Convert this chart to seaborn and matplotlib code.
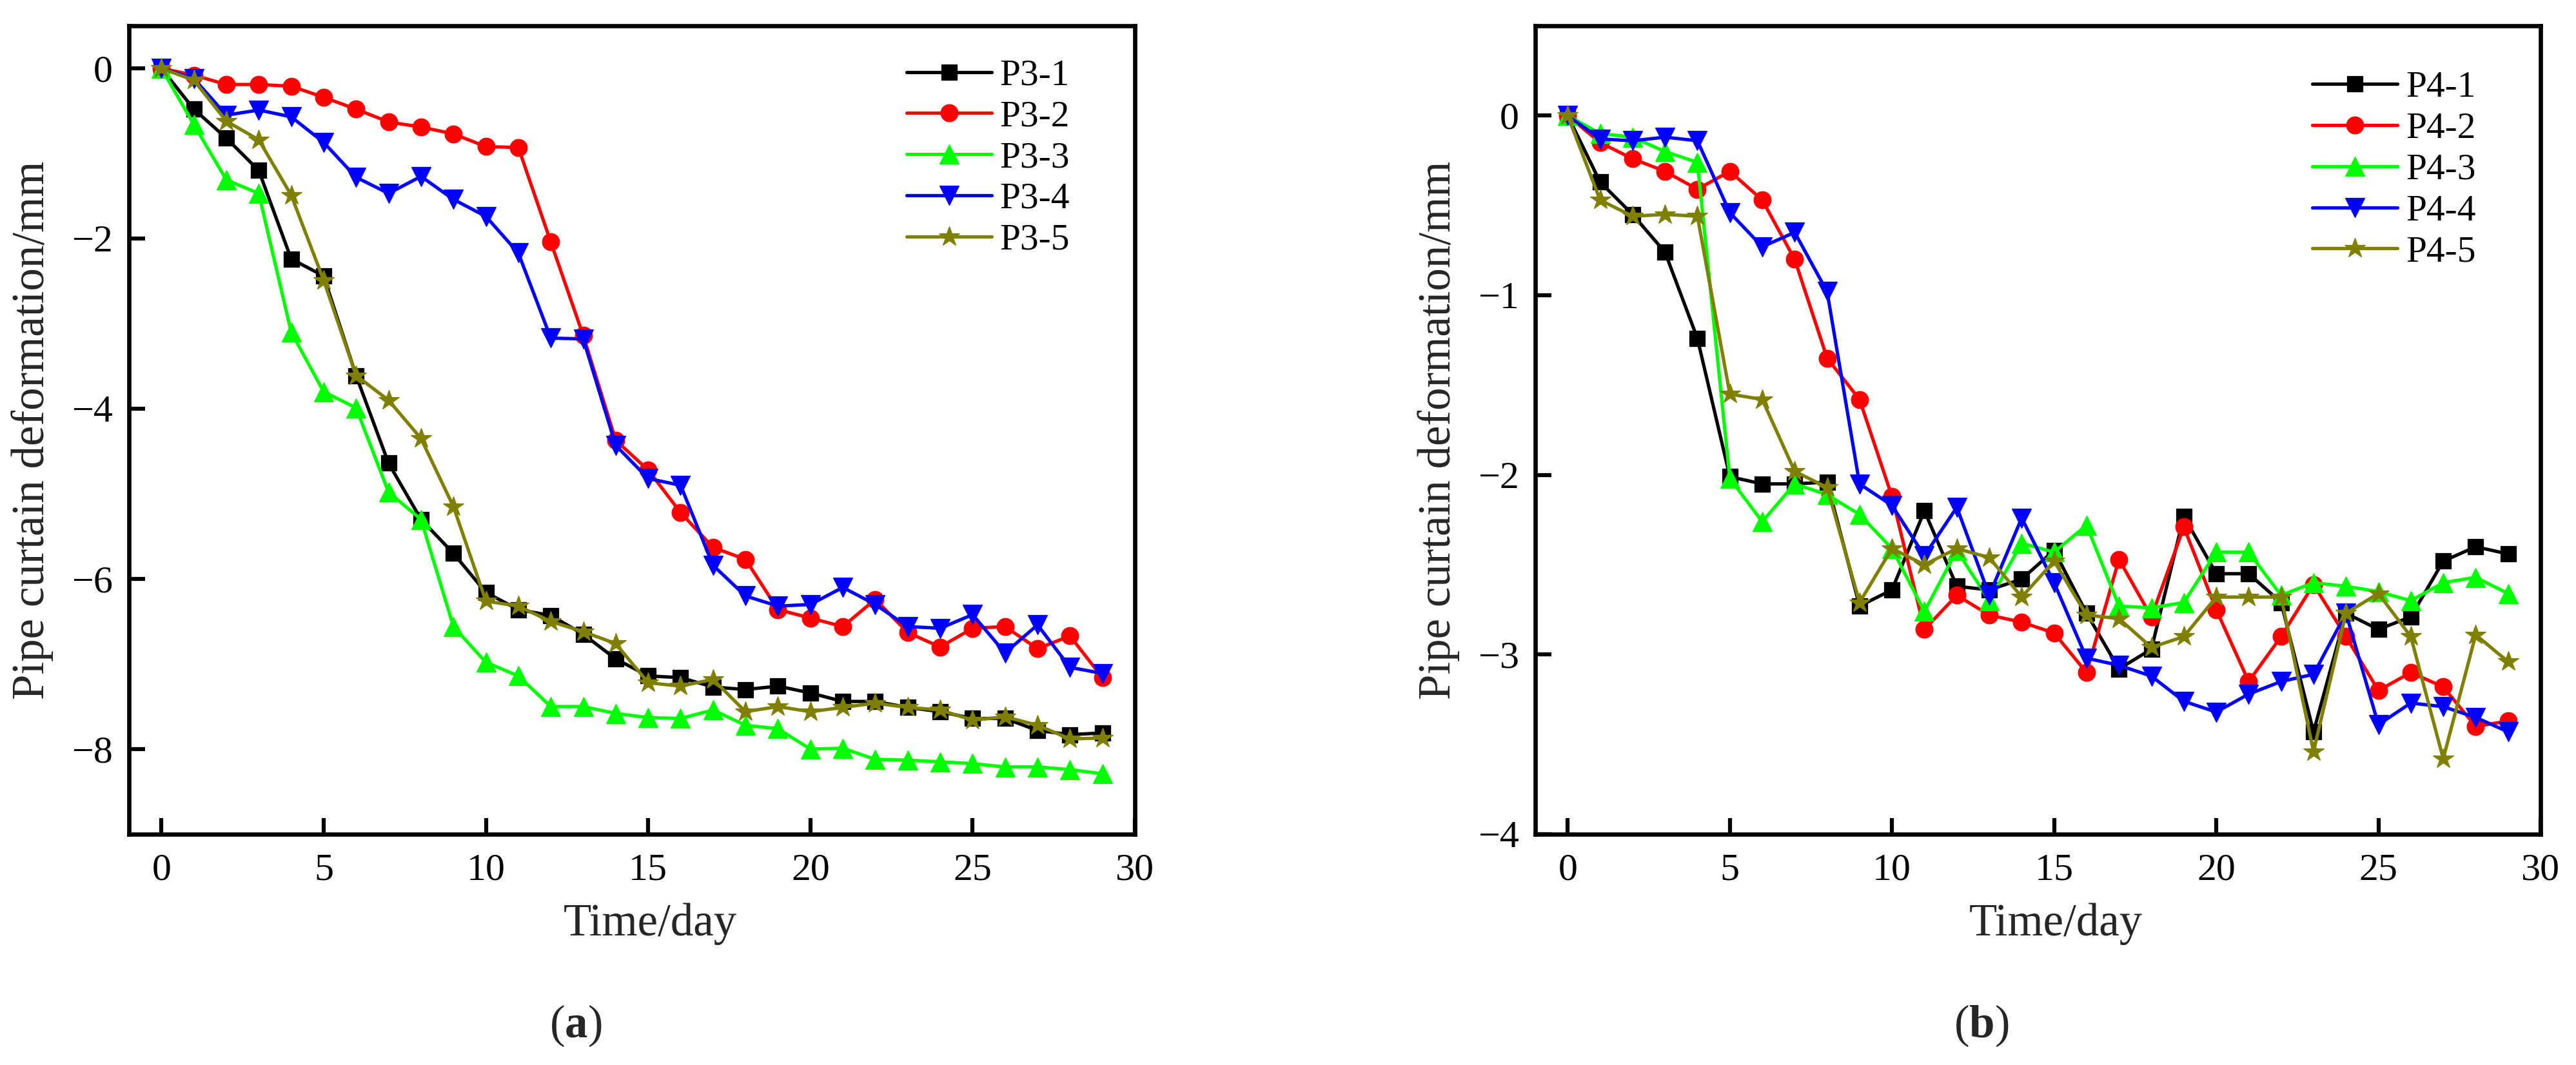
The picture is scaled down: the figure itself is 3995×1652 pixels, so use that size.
import numpy as np
import pandas as pd
import matplotlib
matplotlib.use("Agg")
import matplotlib.pyplot as plt
import seaborn as sns

days = list(range(30))

p3_labels = ["P3-1", "P3-2", "P3-3", "P3-4", "P3-5"]
p3_1 = [0, -0.48, -0.82, -1.2, -2.24, -2.44, -3.61, -4.64, -5.3, -5.7, -6.16, -6.36, -6.43, -6.65, -6.94, -7.14, -7.16, -7.27, -7.3, -7.26, -7.34, -7.44, -7.44, -7.51, -7.56, -7.64, -7.64, -7.78, -7.83, -7.81]
p3_2 = [0, -0.08, -0.19, -0.19, -0.21, -0.34, -0.48, -0.63, -0.69, -0.77, -0.92, -0.93, -2.04, -3.14, -4.37, -4.72, -5.22, -5.63, -5.77, -6.36, -6.46, -6.56, -6.24, -6.63, -6.8, -6.58, -6.56, -6.82, -6.67, -7.16]
p3_3 = [0, -0.66, -1.31, -1.47, -3.1, -3.8, -3.99, -4.98, -5.3, -6.56, -6.98, -7.14, -7.5, -7.5, -7.58, -7.63, -7.64, -7.54, -7.72, -7.76, -8.0, -7.99, -8.12, -8.13, -8.15, -8.17, -8.21, -8.21, -8.24, -8.29]
p3_4 = [0, -0.12, -0.55, -0.49, -0.57, -0.87, -1.28, -1.47, -1.27, -1.54, -1.74, -2.17, -3.17, -3.18, -4.43, -4.82, -4.9, -5.84, -6.2, -6.32, -6.3, -6.1, -6.3, -6.56, -6.58, -6.42, -6.87, -6.54, -7.04, -7.11]
p3_5 = [0, -0.14, -0.62, -0.84, -1.49, -2.49, -3.61, -3.9, -4.35, -5.15, -6.26, -6.32, -6.5, -6.62, -6.76, -7.22, -7.26, -7.18, -7.56, -7.5, -7.56, -7.51, -7.46, -7.51, -7.54, -7.66, -7.62, -7.72, -7.88, -7.87]

p4_labels = ["P4-1", "P4-2", "P4-3", "P4-4", "P4-5"]
p4_1 = [0, -0.37, -0.55, -0.76, -1.24, -2.01, -2.05, -2.05, -2.04, -2.73, -2.64, -2.2, -2.62, -2.64, -2.58, -2.42, -2.77, -3.08, -2.97, -2.23, -2.55, -2.55, -2.71, -3.43, -2.77, -2.86, -2.79, -2.48, -2.4, -2.44]
p4_2 = [0, -0.15, -0.24, -0.31, -0.41, -0.31, -0.47, -0.8, -1.35, -1.58, -2.12, -2.86, -2.67, -2.78, -2.82, -2.88, -3.1, -2.47, -2.79, -2.29, -2.75, -3.15, -2.9, -2.61, -2.9, -3.2, -3.1, -3.18, -3.4, -3.37]
p4_3 = [0, -0.1, -0.12, -0.2, -0.26, -2.02, -2.26, -2.05, -2.11, -2.22, -2.41, -2.76, -2.42, -2.7, -2.38, -2.43, -2.28, -2.73, -2.74, -2.71, -2.43, -2.43, -2.67, -2.6, -2.62, -2.65, -2.7, -2.6, -2.57, -2.66]
p4_4 = [0, -0.13, -0.14, -0.12, -0.14, -0.54, -0.73, -0.65, -0.98, -2.05, -2.17, -2.45, -2.18, -2.67, -2.24, -2.6, -3.02, -3.06, -3.12, -3.26, -3.32, -3.22, -3.15, -3.11, -2.77, -3.39, -3.27, -3.29, -3.35, -3.43]
p4_5 = [0, -0.47, -0.56, -0.55, -0.56, -1.55, -1.58, -1.98, -2.07, -2.71, -2.41, -2.5, -2.41, -2.46, -2.68, -2.48, -2.78, -2.8, -2.96, -2.9, -2.68, -2.68, -2.68, -3.54, -2.77, -2.66, -2.9, -3.58, -2.89, -3.04]

x_ticks = [0, 5, 10, 15, 20, 25, 30]
y_ticks_a = [0, -2, -4, -6, -8]
y_ticks_b = [0, -1, -2, -3, -4]
x_label = "Time/day"
y_label = "Pipe curtain deformation/mm"

colors = ["#000000", "#FF0000", "#00FF00", "#0000FF", "#808000"]
markers = ["s", "o", "^", "v", "*"]
msizes = [5.9, 6.4, 7.4, 7.4, 7.9]

sns.set_theme(style="ticks")
plt.rcParams["font.family"] = ["Liberation Serif", "DejaVu Serif"]
plt.rcParams["mathtext.fontset"] = "custom"
plt.rcParams["mathtext.rm"] = "Liberation Serif"
plt.rcParams["mathtext.bf"] = "Liberation Serif:bold"
plt.rcParams["axes.unicode_minus"] = True

fig = plt.figure(figsize=(3995 / 300, 1652 / 300), dpi=300)
fig.patch.set_facecolor("white")

ax_a = fig.add_axes([0.05006, 0.21671, 0.39049, 0.75908])
ax_b = fig.add_axes([0.59599, 0.21671, 0.39024, 0.75908])


def draw(ax, series, labels, yticks, ylim, leg_y):
    for vals, lab, c, m, ms in zip(series, labels, colors, markers, msizes):
        df = pd.DataFrame({"day": days, "val": vals})
        sns.lineplot(data=df, x="day", y="val", ax=ax, color=c, marker=m,
                     markersize=ms, markeredgecolor=c, markeredgewidth=0.3,
                     linewidth=1.25, label=lab, errorbar=None, sort=False)
    ax.set_xlim(-1, 30)
    ax.set_ylim(*ylim)
    ax.set_xticks(x_ticks)
    ax.set_yticks(yticks)
    ax.set_xticklabels([str(v) for v in x_ticks])
    ax.set_yticklabels([str(v).replace("-", "\u2212") for v in yticks])
    ax.tick_params(direction="in", length=6, width=1.5, labelsize=14.4,
                   colors="black", top=False, right=False)
    ax.tick_params(axis="y", pad=6)
    ax.tick_params(axis="x", pad=7)
    for sp in ax.spines.values():
        sp.set_visible(True)
        sp.set_linewidth(1.6)
        sp.set_color("black")
    ax.set_xlabel(x_label, fontsize=17)
    ax.set_ylabel(y_label, fontsize=17)
    ax.xaxis.set_label_coords(0.518, -0.085)
    ax.yaxis.set_label_coords(-0.075, 0.5)
    ax.grid(False)
    ax.set_facecolor("white")
    leg = ax.legend(loc="upper left", bbox_to_anchor=(0.773, leg_y),
                    frameon=False, fontsize=13.8, handlelength=2.3,
                    handletextpad=0.22, labelspacing=0.2, borderpad=0,
                    borderaxespad=0, numpoints=1)
    for t in leg.get_texts():
        t.set_color("black")


draw(ax_a, [p3_1, p3_2, p3_3, p3_4, p3_5], p3_labels, y_ticks_a, (-9, 0.5), 0.959)
draw(ax_b, [p4_1, p4_2, p4_3, p4_4, p4_5], p4_labels, y_ticks_b, (-4, 0.5), 0.944)

fig.text(0.2235, 1 - 1591 / 1652, r"($\mathbf{a}$)", fontsize=17, ha="center", va="center")
fig.text(0.7692, 1 - 1591 / 1652, r"($\mathbf{b}$)", fontsize=17, ha="center", va="center")

fig.savefig("out.png", dpi=300, facecolor="white")
